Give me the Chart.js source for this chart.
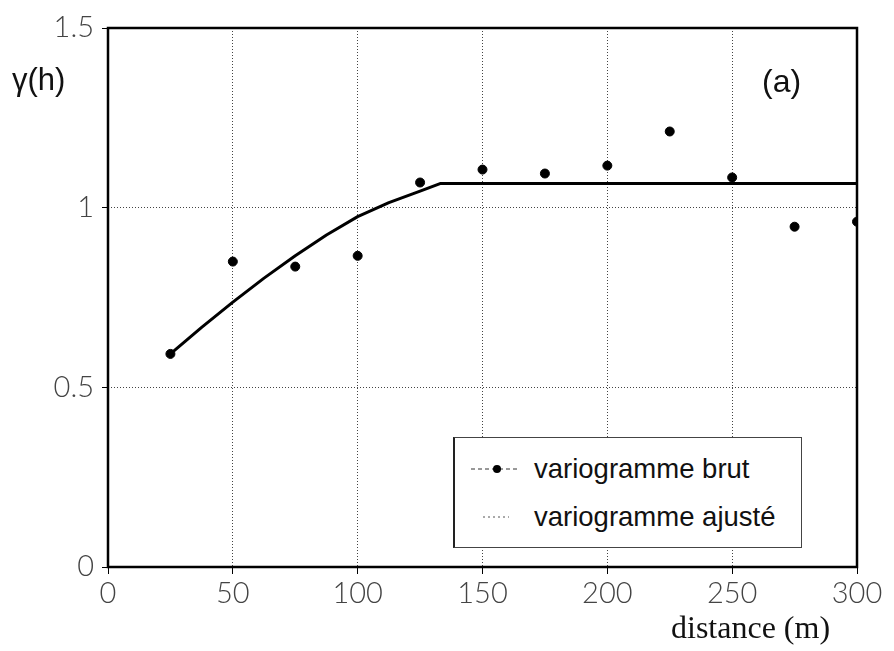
<!DOCTYPE html>
<html lang="fr">

<head>
    <meta charset="UTF-8">
    <title>Variogramme (a)</title>
    <style>
        body {
            margin: 0;
            padding: 0;
            background: #ffffff;
        }

        .wrap {
            position: relative;
            width: 894px;
            height: 651px;
        }

        .label {
            position: absolute;
            color: #111;
            white-space: nowrap;
        }

        .gamma {
            left: 12px;
            top: 62px;
            font: 31px "Liberation Sans", Arial, sans-serif;
        }

        .tag {
            left: 762px;
            top: 63px;
            font: 32px "Liberation Sans", Arial, sans-serif;
        }

        .xtitle {
            left: 671px;
            top: 609px;
            font: 32px "Liberation Serif", "Times New Roman", serif;
        }

        .legend {
            position: absolute;
            left: 453px;
            top: 437px;
            width: 349px;
            height: 111px;
            border-left: 2px solid #222;
            border-top: 1px solid #444;
            border-right: 1px solid #444;
            border-bottom: 1px solid #444;
            background: #fff;
            box-sizing: border-box;
            font: 27.5px "Liberation Sans", Arial, sans-serif;
            color: #111;
        }

        .legend .row {
            position: absolute;
            left: 14px;
            display: flex;
            align-items: center;
        }

        .legend svg {
            margin-right: 13px;
        }
    </style>
</head>

<body>
    <div class="wrap">
        <canvas id="vario" width="894" height="651"></canvas>
        <div class="label gamma">γ(h)</div>
        <div class="label tag">(a)</div>
        <div class="label xtitle">distance (m)</div>
        <div class="legend">
            <div class="row" style="top: 15px;">
                <svg width="52" height="12">
                    <line x1="2" y1="6" x2="50" y2="6" stroke="#333" stroke-width="1" stroke-dasharray="4,3" />
                    <circle cx="28" cy="6" r="4" fill="#000" />
                </svg>
                <span>variogramme brut</span>
            </div>
            <div class="row" style="top: 63px;">
                <svg width="52" height="12">
                    <line x1="14" y1="6" x2="40" y2="6" stroke="#555" stroke-width="1" stroke-dasharray="2,3" />
                </svg>
                <span>variogramme ajusté</span>
            </div>
        </div>
    </div>

    <script src="https://cdn.jsdelivr.net/npm/chart.js"></script>
    <script>
        // raw experimental variogram (lag distance in m, gamma)
        const lagDistances = [25, 50, 75, 100, 125, 150, 175, 200, 225, 250, 275, 300];
        const gammaRaw = [0.593, 0.85, 0.836, 0.866, 1.07, 1.106, 1.095, 1.117, 1.212, 1.084, 0.947, 0.961];

        // fitted model
        const fitDistances = [25, 37.5, 50, 62.5, 75, 87.5, 100, 112.5, 125, 133, 300];
        const gammaFit = [0.593, 0.667, 0.737, 0.804, 0.866, 0.924, 0.975, 1.014, 1.046, 1.067, 1.067];

        const xTicks = [0, 50, 100, 150, 200, 250, 300];
        const yTicks = [0, 0.5, 1, 1.5];

        const toPoints = (xs, ys) => xs.map((x, i) => ({ x: x, y: ys[i] }));

        // black frame around the plot area
        const frame = {
            id: "frame",
            beforeDatasetsDraw(chart) {
                const a = chart.chartArea;
                const c = chart.ctx;
                c.save();
                c.strokeStyle = "#000";
                c.lineWidth = 2.5;
                c.strokeRect(a.left, a.top, a.right - a.left, a.bottom - a.top);
                c.restore();
            }
        };

        const tickFont = { family: "Lato, 'Liberation Sans', sans-serif", size: 29, weight: 300 };

        new Chart(document.getElementById("vario").getContext("2d"), {
            type: "scatter",
            data: {
                datasets: [{
                    label: "variogramme ajusté",
                    data: toPoints(fitDistances, gammaFit),
                    showLine: true,
                    borderColor: "#000",
                    borderWidth: 3,
                    pointRadius: 0,
                    tension: 0,
                    borderJoinStyle: "round",
                }, {
                    label: "variogramme brut",
                    data: toPoints(lagDistances, gammaRaw),
                    showLine: false,
                    backgroundColor: "#000",
                    borderColor: "#000",
                    pointRadius: 4.5,
                }],
            },
            options: {
                responsive: false,
                animation: false,
                layout: {
                    padding: { left: 0, right: 37, top: 28, bottom: 0 },
                },
                plugins: {
                    legend: { display: false },
                    tooltip: { enabled: false },
                },
                scales: {
                    x: {
                        type: "linear",
                        min: 0,
                        max: 300,
                        afterFit: (s) => { s.height = 84; },
                        afterBuildTicks: (s) => { s.ticks = xTicks.map(v => ({ value: v })); },
                        ticks: {
                            font: tickFont,
                            color: "#444",
                            padding: 2,
                            maxRotation: 0,
                        },
                        grid: {
                            color: (ctx) => (ctx.tick && (ctx.tick.value === 0 || ctx.tick.value === 300)) ? "rgba(0,0,0,0)" : "#444",
                            tickColor: "#000",
                            tickLength: 7,
                            lineWidth: 1,
                        },
                        border: { display: false, dash: [1, 2] },
                    },
                    y: {
                        min: 0,
                        max: 1.5,
                        afterFit: (s) => { s.width = 108; },
                        afterBuildTicks: (s) => { s.ticks = yTicks.map(v => ({ value: v })); },
                        ticks: {
                            font: tickFont,
                            color: "#444",
                            padding: 8,
                            callback: (v) => String(v),
                        },
                        grid: {
                            color: (ctx) => (ctx.tick && (ctx.tick.value === 0 || ctx.tick.value === 1.5)) ? "rgba(0,0,0,0)" : "#444",
                            tickColor: "#000",
                            tickLength: 6,
                            lineWidth: 1,
                        },
                        border: { display: false, dash: [1, 2] },
                    },
                },
            },
            plugins: [frame],
        });
    </script>
</body>

</html>
